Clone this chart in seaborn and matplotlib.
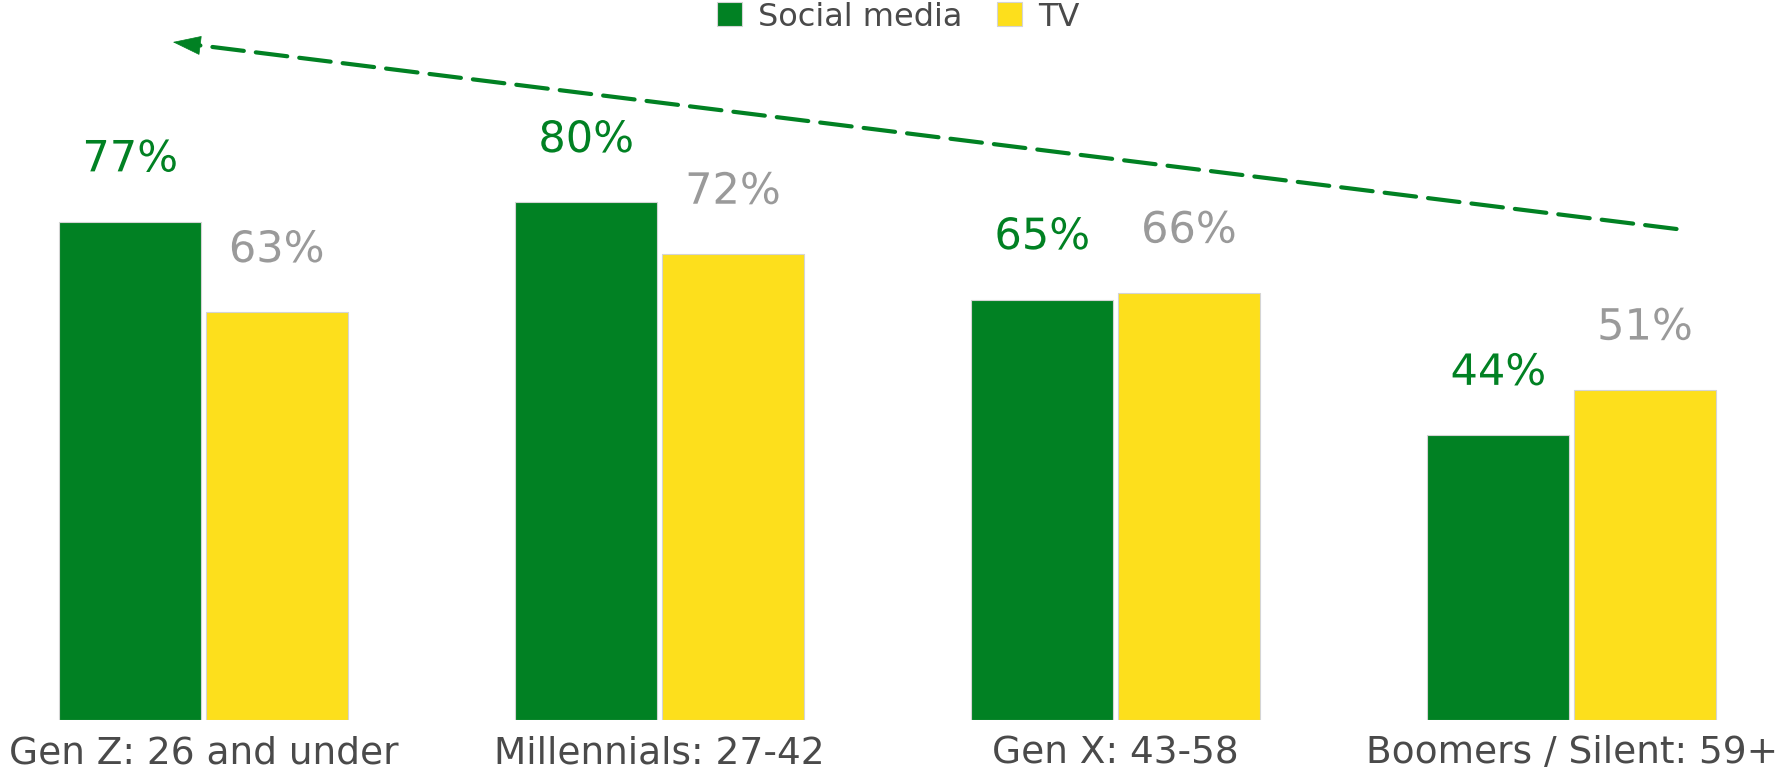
import matplotlib
matplotlib.use("Agg")
import matplotlib.pyplot as plt
import matplotlib.patheffects as pe
import numpy as np
import pandas as pd
import seaborn as sns

# Share of each generation reached by each channel (%)
generations = ["Gen Z: 26 and under", "Millennials: 27-42", "Gen X: 43-58", "Boomers / Silent: 59+"]
social_media = [77, 80, 65, 44]
tv = [63, 72, 66, 51]
channels = ["Social media", "TV"]

GREEN = "#018123"
YELLOW = "#fddf1c"
GRAY_LABEL = "#9a9a9a"
TEXT = "#4a4a4a"

df = pd.DataFrame({
    "generation": generations * 2,
    "channel": [channels[0]] * len(generations) + [channels[1]] * len(generations),
    "share": social_media + tv,
})

sns.set_theme(style="white")
plt.rcParams["font.family"] = ["DejaVu Sans"]

fig = plt.figure(figsize=(17.86, 7.74), dpi=100)
ax = fig.add_axes([0, 54 / 774, 1, 720 / 774])

sns.barplot(
    data=df, x="generation", y="share", hue="channel",
    palette=[GREEN, YELLOW], saturation=1, width=0.643, gap=0.03,
    edgecolor="#d4d4d4", linewidth=0.8, ax=ax, errorbar=None,
)

ax.set_xlim(-0.446, 3.47)
ax.set_ylim(0, 111.3)
ax.set_xlabel("")
ax.set_ylabel("")
ax.set_yticks([])
sns.despine(ax=ax, left=True, bottom=True, top=True, right=True)
ax.tick_params(axis="x", length=0, pad=11, labelsize=27, labelcolor=TEXT)

# Value labels above each bar
outline = [pe.withStroke(linewidth=4, foreground="white")]
for container, color in zip(ax.containers, [GREEN, GRAY_LABEL]):
    for bar in container:
        h = bar.get_height()
        ax.annotate(
            f"{h:.0f}%",
            xy=(bar.get_x() + bar.get_width() / 2, h),
            xytext=(0, 45), textcoords="offset points",
            ha="center", va="center", fontsize=31, color=color,
            path_effects=outline,
        )

# Dashed trend arrow pointing toward the younger generations
tail = np.array([3.23, 75.9])
tip = np.array([-0.067, 104.8])
tail_px = ax.transData.transform(tail)
tip_px = ax.transData.transform(tip)
direction = (tail_px - tip_px) / np.linalg.norm(tail_px - tip_px)
head_base = ax.transData.inverted().transform(tip_px + direction * 26)

ax.annotate(
    "", xy=head_base, xytext=tail,
    arrowprops=dict(arrowstyle="-", color=GREEN, lw=3.0,
                    linestyle=(0, (7.6, 2.9)), shrinkA=0, shrinkB=0),
)
ax.annotate(
    "", xy=tip, xytext=head_base,
    arrowprops=dict(arrowstyle="-|>,head_length=19,head_width=6.5",
                    mutation_scale=1, color=GREEN, lw=0.5,
                    shrinkA=0, shrinkB=0),
)

leg = ax.get_legend()
handles = leg.legend_handles
leg.remove()
fig.legend(
    handles, channels, loc="center", bbox_to_anchor=(0.503, 1 - 17 / 774),
    ncol=2, frameon=False, fontsize=23, labelcolor=TEXT,
    handlelength=0.78, handleheight=0.78, handletextpad=0.5, columnspacing=1.1,
)

fig.savefig("out.png", dpi=100, facecolor="white")
